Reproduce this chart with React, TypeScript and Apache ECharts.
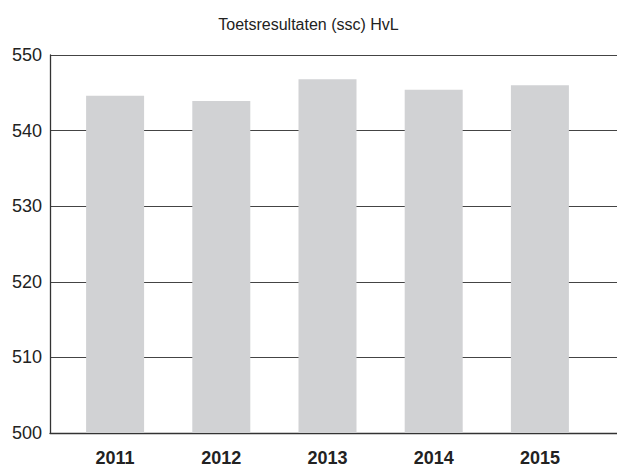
import React, { useEffect, useRef } from "react";
import * as echarts from "echarts";

const title = "Toetsresultaten (ssc) HvL";
const categories = ["2011", "2012", "2013", "2014", "2015"];
const values = [544.6, 543.9, 546.8, 545.4, 546.0];
const yMin = 500;
const yMax = 550;
const yInterval = 10;

export default function App() {
  const ref = useRef<HTMLDivElement>(null);
  useEffect(() => {
    if (!ref.current) return;
    const chart = echarts.init(ref.current, null, { renderer: "svg" });
    const font = "'Liberation Sans', Arial, Helvetica, sans-serif";
    chart.setOption({
      animation: false,
      backgroundColor: "#ffffff",
      title: {
        text: title,
        left: "center",
        top: 11,
        textStyle: { fontFamily: font, fontSize: 16, fontWeight: "normal", color: "#222" },
      },
      grid: [
        { left: 50, right: 0, top: 55, bottom: 35, containLabel: false },
        { left: 62, right: 24, top: 55, bottom: 35, containLabel: false },
      ],
      xAxis: [
        {
          type: "category",
          gridIndex: 0,
          data: categories,
          show: true,
          axisLine: { show: true, lineStyle: { color: "#333", width: 1.3 } },
          axisTick: { show: false },
          axisLabel: { show: false },
        },
        {
          type: "category",
          gridIndex: 1,
          data: categories,
          axisLine: { show: false },
          axisTick: { show: false },
          axisLabel: {
            margin: 16,
            fontFamily: font,
            fontSize: 18,
            fontWeight: "bold",
            color: "#222",
          },
        },
      ],
      yAxis: [
        {
          type: "value",
          gridIndex: 0,
          min: yMin,
          max: yMax,
          interval: yInterval,
          axisLine: { show: true, lineStyle: { color: "#333", width: 1.3 } },
          axisTick: { show: false },
          axisLabel: { margin: 8, fontFamily: font, fontSize: 18, color: "#222" },
          splitLine: { show: true, lineStyle: { color: "#444", width: 1.2 } },
        },
        {
          type: "value",
          gridIndex: 1,
          min: yMin,
          max: yMax,
          interval: yInterval,
          show: false,
          splitLine: { show: false },
        },
      ],
      series: [
        {
          type: "bar",
          xAxisIndex: 1,
          yAxisIndex: 1,
          data: values,
          barWidth: 58,
          itemStyle: { color: "#d1d2d4" },
          z: 3,
        },
      ],
    });
    return () => chart.dispose();
  }, []);
  return (
    <div
      ref={ref}
      style={{ position: "absolute", left: 0, top: 0, width: 617, height: 468 }}
    />
  );
}
